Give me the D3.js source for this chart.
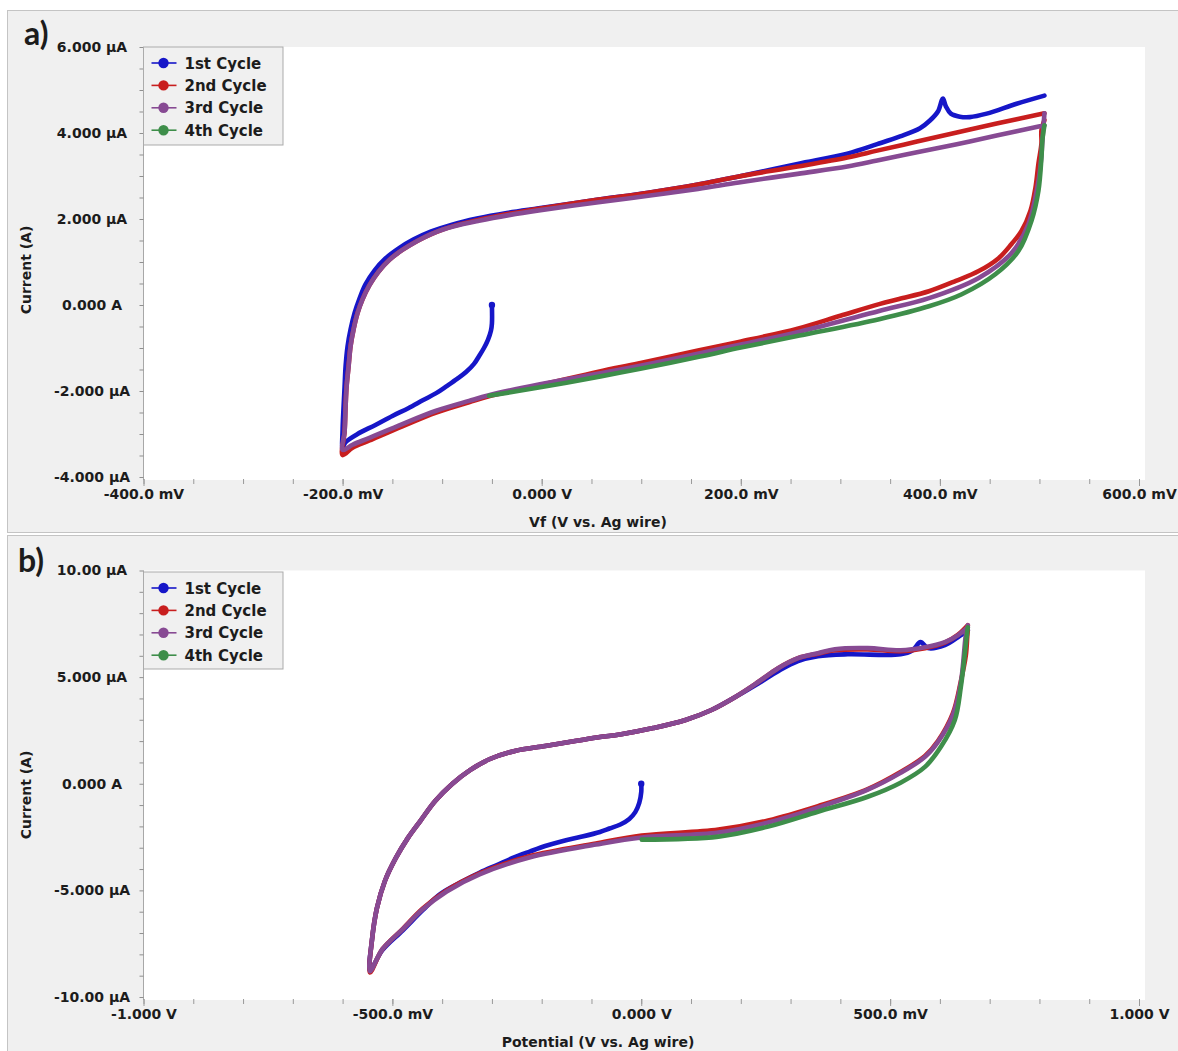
<!DOCTYPE html>
<html>
<head>
<meta charset="utf-8">
<script src="https://cdn.jsdelivr.net/npm/d3@7"></script>
<style>
  body { margin: 0; background: #ffffff; }
  text { font-family: "DejaVu Sans", sans-serif; font-weight: bold; fill: #1c1c1c; }
</style>
</head>
<body>
<svg id="fig" width="1178" height="1051"></svg>
<script>
// ---------- legend ----------
const seriesNames  = ["1st Cycle", "2nd Cycle", "3rd Cycle", "4th Cycle"];
const seriesColors = ["#1616c8", "#c81e1e", "#874a93", "#3e8e4a"];

// ---------- panel a: potential (mV) / current (µA) ----------
const xTicksA = [-400, -200, 0, 200, 400, 600];
const xTickLabelsA = ["-400.0 mV", "-200.0 mV", "0.000 V", "200.0 mV", "400.0 mV", "600.0 mV"];
const yTicksA = [-4, -2, 0, 2, 4, 6];
const yTickLabelsA = ["-4.000 µA", "-2.000 µA", "0.000 A", "2.000 µA", "4.000 µA", "6.000 µA"];

const cycleA1 = [
  [-50, 0.00], [-50, -0.43], [-51, -0.60], [-54, -0.81], [-58, -1.00], [-63, -1.19], [-68, -1.37],
  [-76, -1.56], [-85, -1.72], [-95, -1.88], [-106, -2.05], [-119, -2.21], [-134, -2.40], [-150, -2.58],
  [-167, -2.79], [-185, -3.00], [-197, -3.19], [-200, -3.32],
  [-200, -2.90], [-199, -2.36], [-198, -1.90], [-197, -1.43], [-195, -0.96], [-192, -0.57], [-188, -0.19],
  [-183, 0.15], [-177, 0.48], [-168, 0.80], [-157, 1.08], [-144, 1.31], [-129, 1.52], [-111, 1.71],
  [-90, 1.87], [-65, 2.01], [-35, 2.14], [-3, 2.25], [57, 2.45], [107, 2.61], [157, 2.80], [198, 2.99],
  [257, 3.28], [307, 3.52], [337, 3.74], [360, 3.92], [380, 4.11], [390, 4.29], [398, 4.50], [403, 4.80],
  [406, 4.62], [411, 4.45], [420, 4.38], [430, 4.37], [447, 4.45], [477, 4.68], [505, 4.87]
];
const cycleA2 = [
  [505, 4.30], [502, 4.06], [502, 3.76], [499, 3.29], [496, 2.73], [491, 2.19], [482, 1.72], [472, 1.42],
  [459, 1.09], [439, 0.79], [416, 0.56], [389, 0.32], [359, 0.14], [339, 0.02], [300, -0.25], [257, -0.55],
  [198, -0.86], [157, -1.06], [97, -1.36], [57, -1.55], [-3, -1.87], [-53, -2.12], [-73, -2.26],
  [-106, -2.50], [-140, -2.82], [-173, -3.15], [-190, -3.32], [-200, -3.49],
  [-198, -2.95], [-197, -2.36], [-196, -1.90], [-194, -1.43], [-192, -0.96], [-189, -0.57], [-185, -0.19],
  [-180, 0.13], [-173, 0.46], [-164, 0.77], [-153, 1.05], [-140, 1.28], [-125, 1.49], [-108, 1.68],
  [-88, 1.84], [-63, 1.98], [-33, 2.12], [-3, 2.24], [57, 2.45], [107, 2.61], [157, 2.80], [198, 2.99],
  [257, 3.22], [307, 3.43], [337, 3.59], [377, 3.80], [417, 4.01], [457, 4.22], [505, 4.46]
];
const cycleA3 = [
  [505, 4.46], [503, 3.83], [502, 3.48], [501, 3.24], [499, 2.89], [489, 1.89], [472, 1.21], [439, 0.63],
  [389, 0.16], [339, -0.14], [259, -0.62], [200, -0.92], [159, -1.12], [99, -1.41], [59, -1.59],
  [-3, -1.85], [-53, -2.10], [-73, -2.23], [-106, -2.46], [-140, -2.77], [-173, -3.09], [-190, -3.25],
  [-200, -3.37],
  [-198, -2.95], [-197, -2.36], [-196, -1.90], [-194, -1.43], [-192, -0.96], [-189, -0.57], [-185, -0.19],
  [-180, 0.13], [-173, 0.46], [-164, 0.77], [-153, 1.05], [-140, 1.28], [-125, 1.49], [-108, 1.68],
  [-88, 1.83], [-63, 1.96], [-33, 2.09], [-3, 2.20], [57, 2.39], [107, 2.54], [157, 2.70], [198, 2.85],
  [257, 3.05], [307, 3.22], [337, 3.36], [377, 3.55], [417, 3.74], [457, 3.94], [505, 4.18]
];
const cycleA4 = [
  [505, 4.18], [503, 3.85], [502, 3.43], [499, 2.66], [492, 1.96], [479, 1.26], [456, 0.72], [422, 0.25],
  [389, -0.03], [339, -0.33], [259, -0.71], [200, -0.99], [159, -1.20], [99, -1.48], [59, -1.66],
  [-3, -1.92], [-53, -2.11]
];

// ---------- panel b: potential (mV) / current (µA) ----------
const xTicksB = [-1000, -500, 0, 500, 1000];
const xTickLabelsB = ["-1.000 V", "-500.0 mV", "0.000 V", "500.0 mV", "1.000 V"];
const yTicksB = [-10, -5, 0, 5, 10];
const yTickLabelsB = ["-10.00 µA", "-5.000 µA", "0.000 A", "5.000 µA", "10.00 µA"];

const cycleB1 = [
  [0, 0.00], [0, -0.39], [-4, -0.90], [-12, -1.33], [-24, -1.65], [-42, -1.91], [-64, -2.10], [-83, -2.26],
  [-123, -2.50], [-157, -2.68], [-193, -2.92], [-224, -3.18], [-258, -3.48], [-290, -3.81], [-324, -4.16],
  [-358, -4.56], [-404, -5.17], [-439, -5.93], [-479, -6.87], [-520, -7.80], [-545, -8.75],
  [-541, -7.33], [-531, -5.83], [-515, -4.56], [-493, -3.48], [-469, -2.55], [-444, -1.75], [-414, -0.81],
  [-380, -0.01], [-344, 0.64], [-304, 1.16], [-254, 1.54], [-193, 1.77], [-133, 2.00], [-83, 2.19],
  [-43, 2.31], [24, 2.61], [89, 2.99], [141, 3.46], [189, 4.07], [235, 4.70], [275, 5.28], [315, 5.75],
  [355, 5.98], [415, 6.07], [521, 6.07], [545, 6.26], [561, 6.64], [576, 6.36], [610, 6.50], [636, 6.87],
  [656, 7.20]
];
const cycleB2 = [
  [656, 7.20], [655, 6.90], [652, 6.00], [642, 4.80], [626, 3.30], [596, 2.00], [570, 1.30], [521, 0.55],
  [455, -0.25], [355, -1.05], [255, -1.72], [155, -2.15], [1, -2.43], [-91, -2.80], [-225, -3.40],
  [-325, -4.20], [-391, -5.00], [-439, -5.85], [-479, -6.80], [-520, -7.76], [-545, -8.85],
  [-541, -7.33], [-531, -5.83], [-515, -4.56], [-493, -3.48], [-469, -2.55], [-444, -1.75], [-414, -0.81],
  [-380, -0.01], [-344, 0.64], [-304, 1.16], [-254, 1.54], [-193, 1.77], [-133, 2.00], [-83, 2.19],
  [-43, 2.31], [24, 2.61], [89, 2.99], [141, 3.46], [189, 4.07], [235, 4.77], [275, 5.42], [315, 5.89],
  [355, 6.10], [389, 6.26], [455, 6.30], [521, 6.22], [570, 6.36], [610, 6.62], [636, 6.98], [656, 7.43]
];
const cycleB3 = [
  [656, 7.43], [652, 6.96], [642, 4.72], [626, 3.22], [596, 1.96], [570, 1.26], [521, 0.51], [455, -0.28],
  [355, -1.12], [255, -1.82], [155, -2.29], [1, -2.52], [-91, -2.85], [-225, -3.46], [-325, -4.25],
  [-391, -5.05], [-439, -5.89], [-479, -6.82], [-520, -7.76], [-545, -8.79],
  [-541, -7.33], [-531, -5.83], [-515, -4.56], [-493, -3.48], [-469, -2.55], [-444, -1.75], [-414, -0.81],
  [-380, -0.01], [-344, 0.64], [-304, 1.16], [-254, 1.54], [-193, 1.77], [-133, 2.00], [-83, 2.19],
  [-43, 2.31], [24, 2.61], [89, 2.99], [141, 3.46], [189, 4.07], [235, 4.77], [275, 5.42], [315, 5.89],
  [355, 6.12], [389, 6.31], [455, 6.36], [521, 6.26], [570, 6.40], [610, 6.64], [636, 6.96], [656, 7.34]
];
const cycleB4 = [
  [656, 7.34], [653, 6.73], [642, 4.53], [630, 2.99], [602, 1.73], [570, 0.79], [521, 0.05], [455, -0.61],
  [355, -1.31], [255, -2.01], [155, -2.48], [1, -2.62]
];

const svg = d3.select("#fig");

function drawPanel(opt) {
  const g = svg.append("g");

  // panel frame
  g.append("rect")
    .attr("x", 7.5).attr("y", opt.frameTop + 0.5)
    .attr("width", 1190).attr("height", opt.frameHeight)
    .attr("fill", "#f0f0f0").attr("stroke", "#c4c4c4");

  const x = d3.scaleLinear().domain(opt.xDomain).range([143.5, 1139]);
  const y = d3.scaleLinear().domain(opt.yDomain).range([opt.plotBottom, opt.plotTop]);

  // plot area
  g.append("rect")
    .attr("x", 143.5).attr("y", opt.plotTop)
    .attr("width", 1145 - 143.5).attr("height", opt.plotBottom + 3 - opt.plotTop)
    .attr("fill", "#ffffff");

  // left axis line
  g.append("line")
    .attr("x1", 143.5).attr("x2", 143.5)
    .attr("y1", opt.plotTop).attr("y2", opt.plotBottom + 3)
    .attr("stroke", "#a8a8a8");

  // y ticks (minor then major)
  const yMinor = d3.range(opt.yDomain[0], opt.yDomain[1] + 1e-9, opt.yMinorStep);
  g.append("g").attr("transform", "translate(143.5,0)")
    .call(d3.axisLeft(y).tickValues(yMinor).tickSize(4).tickFormat(""))
    .call(s => s.select(".domain").remove())
    .call(s => s.selectAll("line").attr("stroke", "#8f8f8f"));
  const yAx = g.append("g").attr("transform", "translate(143.5,0)")
    .call(d3.axisLeft(y).tickValues(opt.yTicks).tickSize(0)
      .tickFormat((d, i) => opt.yTickLabels[i]))
    .call(s => s.select(".domain").remove());
  yAx.selectAll("text")
    .attr("x", 92 - 143.5).attr("text-anchor", "middle")
    .style("font-size", "14px").style("font-family", "'DejaVu Sans', sans-serif")
    .style("font-weight", "bold").attr("fill", "#1c1c1c");

  // x ticks
  const axisY = opt.plotBottom + 2;
  const xMinor = d3.range(opt.xDomain[0], opt.xDomain[1] + 1e-9, opt.xMinorStep);
  g.append("g").attr("transform", `translate(0,${axisY})`)
    .call(d3.axisBottom(x).tickValues(xMinor).tickSize(5).tickFormat(""))
    .call(s => s.select(".domain").remove())
    .call(s => s.selectAll("line").attr("stroke", "#9a9a9a"));
  const xAx = g.append("g").attr("transform", `translate(0,${axisY})`)
    .call(d3.axisBottom(x).tickValues(opt.xTicks).tickSize(7).tickPadding(3)
      .tickFormat((d, i) => opt.xTickLabels[i]))
    .call(s => s.select(".domain").remove())
    .call(s => s.selectAll("line").attr("stroke", "#9a9a9a"));
  xAx.selectAll("text")
    .style("font-size", "14px").style("font-family", "'DejaVu Sans', sans-serif")
    .style("font-weight", "bold").attr("fill", "#1c1c1c");

  // axis titles
  g.append("text")
    .attr("transform", `translate(31,${opt.yTitleCenter}) rotate(-90)`)
    .attr("text-anchor", "middle").style("font-size", "14px")
    .text("Current (A)");
  g.append("text")
    .attr("x", 598).attr("y", opt.xTitleBaseline)
    .attr("text-anchor", "middle").style("font-size", "14px")
    .text(opt.xTitle);

  // panel letter
  g.append("text")
    .attr("x", opt.letterX).attr("y", opt.letterBaseline)
    .style("font-family", "Lato, 'DejaVu Sans', sans-serif")
    .style("font-size", "32px").style("font-weight", "bold")
    .attr("fill", "#111")
    .text(opt.letter);

  // voltammogram traces
  const line = d3.line()
    .x(d => x(d[0])).y(d => y(d[1]))
    .curve(d3.curveCatmullRom.alpha(0.5));

  opt.series.forEach((s, i) => {
    g.append("path")
      .datum(s)
      .attr("d", line)
      .attr("fill", "none")
      .attr("stroke", seriesColors[i])
      .attr("stroke-width", 4.6)
      .attr("stroke-linejoin", "round")
      .attr("stroke-linecap", "round");
  });
  // starting point of the first cycle
  const p0 = opt.series[0][0];
  g.append("circle")
    .attr("cx", x(p0[0])).attr("cy", y(p0[1])).attr("r", 3.2)
    .attr("fill", seriesColors[0]);

  // legend
  const lg = g.append("g").attr("transform", `translate(143.5,${opt.legendTop})`);
  lg.append("rect")
    .attr("x", 0).attr("y", 0).attr("width", 139.5).attr("height", opt.legendHeight)
    .attr("fill", "#f0f0f0").attr("stroke", "#ababab");
  seriesNames.forEach((name, i) => {
    const cy = opt.legendFirstRow + i * opt.legendRowStep;
    lg.append("line")
      .attr("x1", 8).attr("x2", 33).attr("y1", cy).attr("y2", cy)
      .attr("stroke", seriesColors[i]).attr("stroke-width", 1.6);
    lg.append("circle")
      .attr("cx", 20).attr("cy", cy).attr("r", 5.2)
      .attr("fill", seriesColors[i]);
    lg.append("text")
      .attr("x", 41).attr("y", cy + 5.5)
      .style("font-size", "15px")
      .text(name);
  });
}

drawPanel({
  frameTop: 10, frameHeight: 522,
  plotTop: 47, plotBottom: 477,
  xDomain: [-400, 600], yDomain: [-4, 6],
  xTicks: xTicksA, xTickLabels: xTickLabelsA, xMinorStep: 50,
  yTicks: yTicksA, yTickLabels: yTickLabelsA, yMinorStep: 0.5,
  yTitleCenter: 270, xTitle: "Vf (V vs. Ag wire)", xTitleBaseline: 527,
  letter: "a)", letterX: 24, letterBaseline: 45,
  legendTop: 47, legendHeight: 98, legendFirstRow: 16, legendRowStep: 22.4,
  series: [cycleA1, cycleA2, cycleA3, cycleA4]
});

drawPanel({
  frameTop: 535, frameHeight: 530,
  plotTop: 570.5, plotBottom: 997,
  xDomain: [-1000, 1000], yDomain: [-10, 10],
  xTicks: xTicksB, xTickLabels: xTickLabelsB, xMinorStep: 100,
  yTicks: yTicksB, yTickLabels: yTickLabelsB, yMinorStep: 1,
  yTitleCenter: 795, xTitle: "Potential (V vs. Ag wire)", xTitleBaseline: 1047,
  letter: "b)", letterX: 18, letterBaseline: 572,
  legendTop: 572, legendHeight: 97, legendFirstRow: 16, legendRowStep: 22.4,
  series: [cycleB1, cycleB2, cycleB3, cycleB4]
});
</script>
</body>
</html>
